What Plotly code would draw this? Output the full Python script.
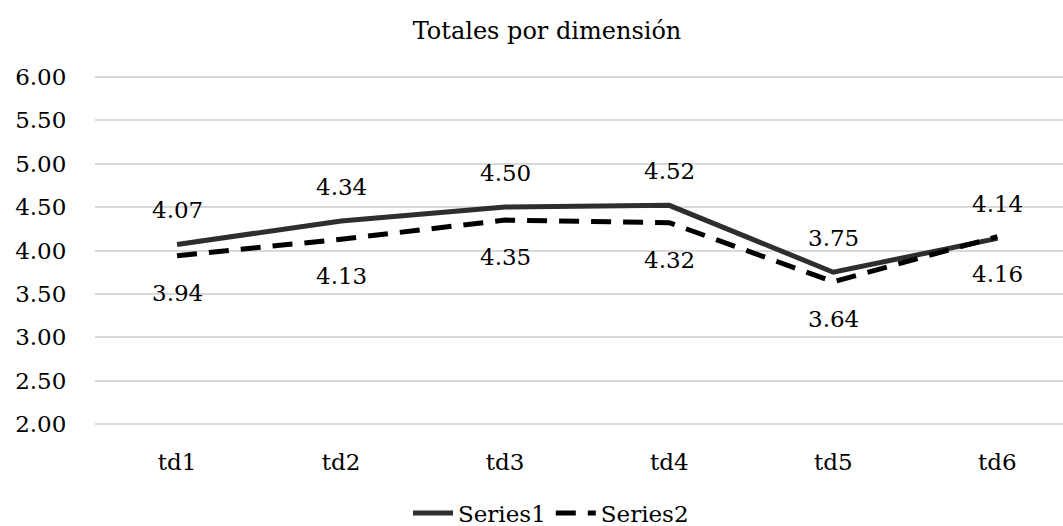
import plotly.graph_objects as go

categories = ["td1", "td2", "td3", "td4", "td5", "td6"]
series1 = [4.07, 4.34, 4.50, 4.52, 3.75, 4.14]
series2 = [3.94, 4.13, 4.35, 4.32, 3.64, 4.16]
y_ticks = [2.0, 2.5, 3.0, 3.5, 4.0, 4.5, 5.0, 5.5, 6.0]
title_text = "Totales por dimensión"

FONT = "DejaVu Serif"
FS = 23

fig = go.Figure()
fig.add_trace(go.Scatter(
    x=categories, y=series1, mode="lines", name="Series1",
    line=dict(color="#2e2e2e", width=5),
))
fig.add_trace(go.Scatter(
    x=categories, y=series2, mode="lines", name="Series2",
    line=dict(color="#000000", width=5, dash="20px,12px"),
))

annotations = []
for c, v in zip(categories, series1):
    annotations.append(dict(x=c, y=v, text=f"{v:.2f}", showarrow=False,
                            yshift=34, font=dict(family=FONT, size=FS, color="#000")))
for c, v in zip(categories, series2):
    annotations.append(dict(x=c, y=v, text=f"{v:.2f}", showarrow=False,
                            yshift=-37, font=dict(family=FONT, size=FS, color="#000")))

fig.update_layout(
    width=1063, height=526,
    margin=dict(l=95, r=0, t=75, b=100),
    paper_bgcolor="white", plot_bgcolor="white",
    font=dict(family=FONT, size=FS, color="#000"),
    title=dict(text=title_text, x=547 / 1063, xref="container", xanchor="center",
               y=1 - 31 / 526, yref="container", yanchor="middle",
               font=dict(family=FONT, size=24, color="#000")),
    showlegend=True,
    legend=dict(orientation="h", xref="container", yref="container",
                x=551 / 1063, xanchor="center", y=1 - 513 / 526, yanchor="middle",
                font=dict(family=FONT, size=FS, color="#000"),
                itemwidth=40),
    annotations=annotations,
)
fig.update_xaxes(
    type="category", range=[-0.5, 5.40], showgrid=False, zeroline=False,
    showline=False, ticks="outside", ticklen=15, tickcolor="rgba(0,0,0,0)",
    tickfont=dict(family=FONT, size=FS, color="#000"),
)
fig.update_yaxes(
    range=[1.98, 6.02], tickvals=y_ticks, ticktext=[f"{t:.2f}" for t in y_ticks],
    showgrid=True, gridcolor="#d9d9d9", gridwidth=1.5, zeroline=False,
    showline=False, ticks="outside", ticklen=23, tickcolor="rgba(0,0,0,0)",
    tickfont=dict(family=FONT, size=FS, color="#000"),
)

fig.write_html(
    "out.html",
    config={"displayModeBar": False},
    post_script="document.body.style.margin='0';document.body.style.overflow='hidden';",
)
